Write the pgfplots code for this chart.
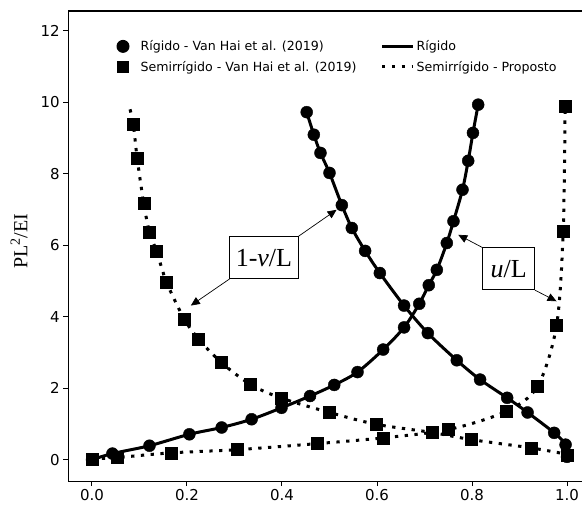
\documentclass[border=0pt]{standalone}
\usepackage{pgfplots}
\pgfplotsset{compat=1.18}
\usepackage{fontspec}
\setmainfont{Liberation Serif}
\newfontfamily\dejavu{DejaVu Sans}
\usetikzlibrary{arrows.meta,calc}

\pgfplotstableread{
x y
0.000 0.00
0.043 0.17
0.121 0.39
0.205 0.71
0.273 0.90
0.336 1.13
0.399 1.45
0.459 1.78
0.510 2.09
0.559 2.45
0.613 3.08
0.657 3.70
0.689 4.36
0.709 4.88
0.726 5.31
0.747 6.06
0.761 6.67
0.780 7.55
0.792 8.36
0.802 9.14
0.813 9.93
}\rigidU

\pgfplotstableread{
x y
0.452 9.72
0.467 9.09
0.481 8.58
0.500 8.02
0.526 7.12
0.547 6.48
0.575 5.84
0.606 5.22
0.657 4.31
0.707 3.54
0.768 2.78
0.817 2.24
0.874 1.73
0.917 1.32
0.973 0.75
0.997 0.42
1.000 0.08
}\rigidV

\pgfplotstableread{
x y
0.000 0.02
0.053 0.06
0.166 0.19
0.306 0.28
0.475 0.45
0.613 0.61
0.750 0.84
0.872 1.35
0.938 2.05
0.978 3.75
0.992 6.39
0.996 9.88
}\semiU

\pgfplotstableread{
x y
0.087 9.39
0.095 8.44
0.109 7.16
0.121 6.36
0.136 5.83
0.157 4.96
0.194 3.94
0.224 3.38
0.272 2.72
0.334 2.10
0.399 1.72
0.500 1.32
0.598 0.99
0.716 0.76
0.799 0.56
0.924 0.33
1.000 0.12
}\semiV

\pgfplotstableread{
x y
0.080 9.80
0.087 9.39
0.095 8.44
0.109 7.16
0.121 6.36
0.136 5.83
0.157 4.96
0.194 3.94
0.224 3.38
0.272 2.72
0.334 2.10
0.399 1.72
0.500 1.32
0.598 0.99
0.716 0.76
0.799 0.56
0.924 0.33
1.000 0.15
}\semiVline

\begin{document}
\begin{tikzpicture}
\begin{axis}[
  x=475pt, y=35.75pt,
  xmin=-0.05, xmax=1.05, ymin=-0.6, ymax=12.55,
  xtick={0,0.2,0.4,0.6,0.8,1.0},
  xticklabels={0.0,0.2,0.4,0.6,0.8,1.0},
  ytick={0,2,4,6,8,10,12},
  tick align=outside, major tick length=5pt,
  xtick pos=left, ytick pos=left,
  tick style={line width=1pt, black},
  axis line style={line width=1.2pt},
  ticklabel style={font=\dejavu\fontsize{15}{17}\selectfont},
  /pgf/number format/assume math mode=true,
  ylabel={PL\textsuperscript{2}/EI},
  ylabel style={font=\fontsize{20}{22}\selectfont, at={(axis description cs:-0.094,0.51)}, anchor=center},
  legend style={draw=none, fill=none, at={(axis description cs:0.069,0.946)}, anchor=north west,
    font=\dejavu\fontsize{12.6}{15}\selectfont, legend columns=2, row sep=5pt,
    /tikz/every even column/.append style={column sep=22pt}},
  legend cell align=left,
]
\coordinate (BL) at (rel axis cs:0,0);
\coordinate (TR) at (rel axis cs:1,1);

\addlegendimage{legend image code/.code={\path[draw=none,fill=none] (0pt,0pt) -- (31pt,0pt); \fill[black, draw=none] (15.5pt,0pt) circle[radius=6.5pt];}}
\addlegendentry{Rígido - Van Hai et al. (2019)}
\addlegendimage{legend image code/.code={\draw[black, line width=3pt] (0pt,0pt) -- (31pt,0pt);}}
\addlegendentry{Rígido}
\addlegendimage{legend image code/.code={\path[draw=none,fill=none] (0pt,0pt) -- (31pt,0pt); \fill[black, draw=none] (9.25pt,-6.25pt) rectangle (21.75pt,6.25pt);}}
\addlegendentry{Semirrígido - Van Hai et al. (2019)}
\addlegendimage{legend image code/.code={\draw[black, line width=3pt, dash pattern=on 3.3pt off 6.5pt, line cap=butt] (0pt,0pt) -- (31pt,0pt);}}
\addlegendentry{Semirrígido - Proposto}

% lines
\addplot[forget plot, black, line width=3pt, smooth, tension=0.5] table {\rigidU};
\addplot[forget plot, black, line width=3pt, smooth, tension=0.5] table {\rigidV};
\addplot[forget plot, black, line width=3pt, dash pattern=on 3.3pt off 6.5pt, line cap=butt, smooth, tension=0.5] table {\semiU};
\addplot[forget plot, black, line width=3pt, dash pattern=on 3.3pt off 6.5pt, line cap=butt, smooth, tension=0.5] table {\semiVline};

% markers
\addplot[forget plot, only marks, mark=*, mark size=6pt, black] table {\rigidU};
\addplot[forget plot, only marks, mark=*, mark size=6pt, black] table {\rigidV};
\addplot[forget plot, only marks, mark=square*, mark size=6pt, black] table {\semiU};
\addplot[forget plot, only marks, mark=square*, mark size=6pt, black] table {\semiV};

% annotations
\node[draw, line width=0.8pt, fill=white, font=\fontsize{26}{28}\selectfont, inner xsep=6pt, minimum height=42pt] (bv) at (axis cs:0.362,5.65) {1-\textit{v}/L};
\draw[-{Triangle[length=9pt,width=8pt]}, line width=0.7pt] (bv.north east) -- (axis cs:0.515,6.99);
\draw[-{Triangle[length=9pt,width=8pt]}, line width=0.7pt] (bv.south west) -- (axis cs:0.208,4.31);

\node[draw, line width=0.8pt, fill=white, font=\fontsize{26}{28}\selectfont, inner xsep=8pt, minimum height=42pt] (ul) at (axis cs:0.877,5.34) {\textit{u}/L};
\draw[-{Triangle[length=9pt,width=8pt]}, line width=0.7pt] (ul.north west) -- (axis cs:0.771,6.29);
\draw[-{Triangle[length=9pt,width=8pt]}, line width=0.7pt] (ul.south east) -- (axis cs:0.978,4.43);
\end{axis}
\pgfresetboundingbox
\path[use as bounding box] ($(BL)+(-68.25pt,-29pt)$) rectangle ($(TR)+(-8.75pt,11pt)$);
\end{tikzpicture}
\end{document}
